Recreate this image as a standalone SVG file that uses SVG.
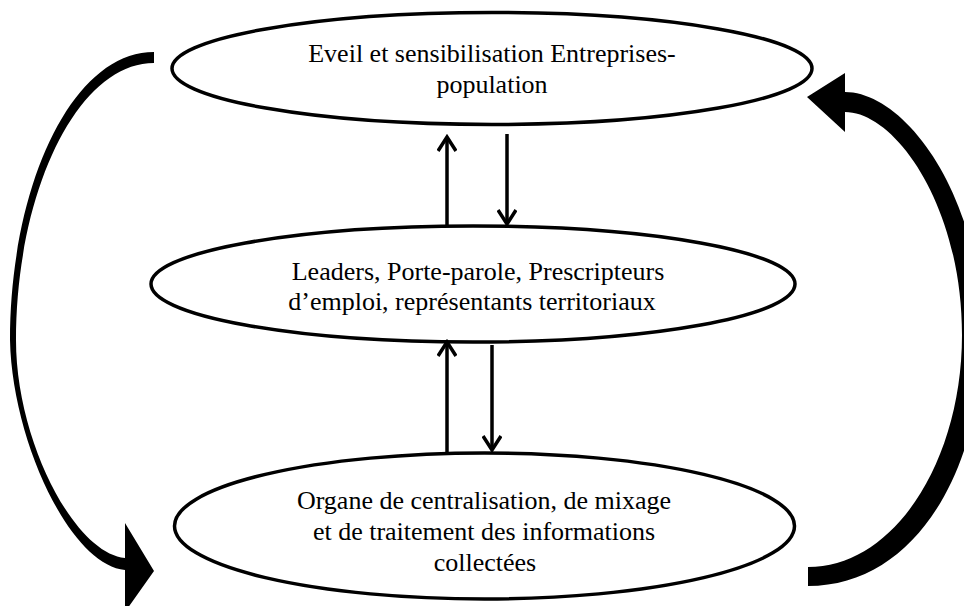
<svg xmlns="http://www.w3.org/2000/svg" width="964" height="606" viewBox="0 0 964 606">
<style>
.node ellipse{fill:#fff;stroke:#000;stroke-width:3.5}
.lbl{font-family:"Liberation Serif","Times New Roman",serif;font-size:26px;fill:#000;text-anchor:middle}
.v{stroke:#000;stroke-width:3.5;fill:none}
.big{fill:#000;stroke:none}
</style>
<defs>
<marker id="ah" viewBox="0 0 20 20" refX="17" refY="10" markerWidth="20" markerHeight="20" markerUnits="userSpaceOnUse" orient="auto">
<path d="M3,1 L17,10 L3,19" fill="none" stroke="#000" stroke-width="3.5" stroke-linejoin="miter"/>
</marker>
</defs>
<rect width="964" height="606" fill="#fff"/>
<g id="n1" class="node">
<ellipse cx="492" cy="68.5" rx="320" ry="56"/>
<text class="lbl" x="492" y="62">Eveil et sensibilisation Entreprises-</text>
<text class="lbl" x="492" y="93">population</text>
</g>
<g id="n2" class="node">
<ellipse cx="473" cy="284" rx="322" ry="58"/>
<text class="lbl" x="478" y="280">Leaders, Porte-parole, Prescripteurs</text>
<text class="lbl" x="472" y="310">d’emploi, représentants territoriaux</text>
</g>
<g id="n3" class="node">
<ellipse cx="484.5" cy="526" rx="310" ry="73"/>
<text class="lbl" x="484" y="509">Organe de centralisation, de mixage</text>
<text class="lbl" x="484" y="540">et de traitement des informations</text>
<text class="lbl" x="485" y="571">collectées</text>
</g>
<g id="connectors">
<line class="v" x1="447" y1="225" x2="447" y2="137" marker-end="url(#ah)"/>
<line class="v" x1="507" y1="134" x2="507" y2="224" marker-end="url(#ah)"/>
<line class="v" x1="447" y1="453" x2="447" y2="342" marker-end="url(#ah)"/>
<line class="v" x1="492" y1="345" x2="492" y2="450" marker-end="url(#ah)"/>
<path class="big" d="M154,52 C70,52 10,190 10,340 C12,440 70,565 125,570 L125,612 L154,571 L125,523 L125,558 C74,553 16,440 16,340 C16,195 76,63 154,63 Z"/>
<path class="big" d="M808,586 C915,586 982,470 982,335 C982,195 905,92 845,92 L845,73 L807,97 L845,132 L845,112 C895,112 962,205 962,335 C962,460 895,567 808,567 Z"/>
</g>
</svg>
